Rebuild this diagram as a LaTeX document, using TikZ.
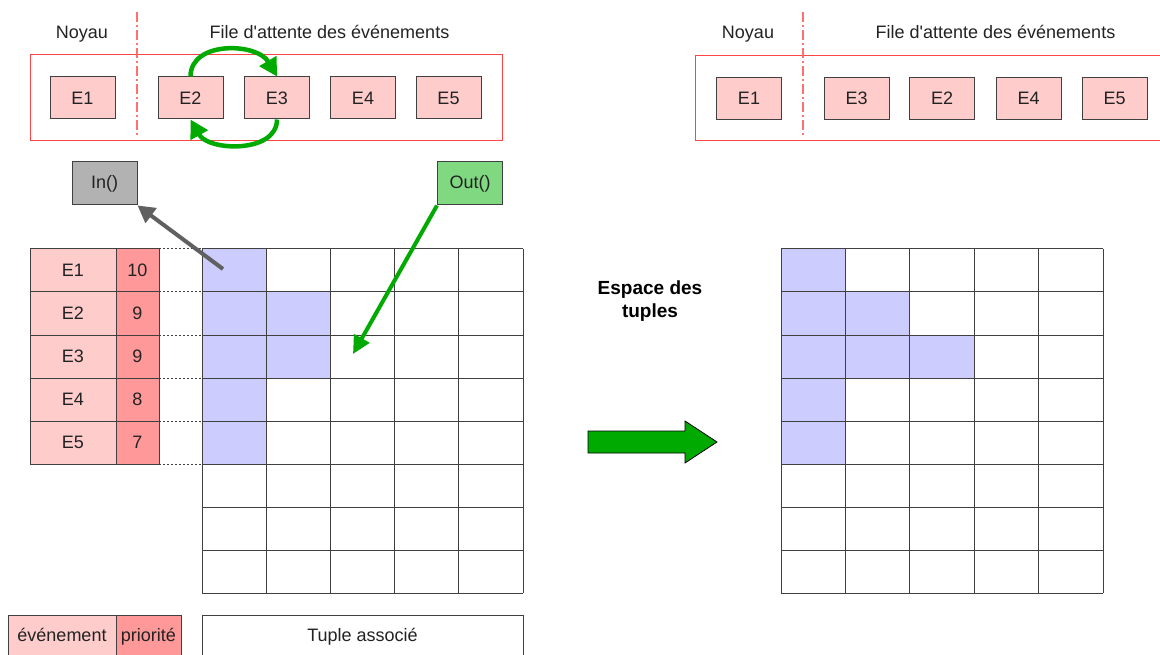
\documentclass[tikz,border=0pt]{standalone}
\usepackage{fontspec}
\setmainfont{Liberation Sans}[Ligatures=TeXOff]
\usetikzlibrary{arrows.meta}
\definecolor{epink}{HTML}{FFCCCC}
\definecolor{prio}{HTML}{FF9999}
\definecolor{tblue}{HTML}{CCCCFF}
\definecolor{ingray}{HTML}{B2B2B2}
\definecolor{outgreen}{HTML}{80D880}
\definecolor{agreen}{HTML}{00AA00}
\definecolor{qred}{HTML}{FF4444}
\definecolor{dred}{HTML}{FF7070}
\definecolor{linegray}{HTML}{404040}
\definecolor{txt}{HTML}{222222}
\definecolor{arrgray}{HTML}{606060}
\begin{document}
\begin{tikzpicture}[x=1pt,y=-1pt, font=\fontsize{18}{21}\selectfont, text=txt,
  ebox/.style={draw=linegray, line width=1pt, fill=epink, minimum width=65pt, minimum height=42pt, inner sep=0pt},
  fnbox/.style={draw=linegray, line width=1pt, minimum width=65pt, minimum height=43pt, inner sep=0pt},
  ecell/.style={draw=linegray, line width=1pt, fill=epink, minimum width=86pt, minimum height=43pt, inner sep=0pt},
  pcell/.style={draw=linegray, line width=1pt, fill=prio, minimum width=43pt, minimum height=43pt, inner sep=0pt},
  queue/.style={draw=qred, line width=1pt},
  sep/.style={draw=dred, line width=1.2pt, dash pattern=on 10pt off 3pt on 2pt off 3pt},
  title/.style={anchor=base, inner sep=0pt},
  gridline/.style={draw=linegray, line width=1pt},
  dotline/.style={draw=linegray, line width=1pt, dash pattern=on 2pt off 2pt},
  garrow/.style={draw=agreen, line width=4.5pt, -{Triangle[length=18pt,width=19pt]}},
  grayarrow/.style={draw=arrgray, line width=4pt, -{Triangle[length=17pt,width=18pt]}},
  oarrow/.style={draw=agreen, line width=4pt, -{Triangle[length=18pt,width=17pt]}},
  blockarrow/.style={fill=agreen, draw=black, line width=0.8pt}
]
\useasboundingbox (0,0) rectangle (1160,655);
\clip (0,0) rectangle (1160,655);

% ---------- left queue ----------
\node[title] (noyL) at (82,39) {Noyau};
\node[title] (fileL) at (329.5,39) {File d'attente des événements};
\draw[queue] (30,55) rectangle (502,141);
\draw[sep] (137,12) -- (137,135);
\node[ebox] (L1) at (82.5,98) {E1};
\node[ebox] (L2) at (190.5,98) {E2};
\node[ebox] (L3) at (277,98) {E3};
\node[ebox] (L4) at (363,98) {E4};
\node[ebox] (L5) at (448.5,98) {E5};
\draw[garrow] (L2.north) .. controls +(0,-36) and +(-20,-34) .. (L3.north);
\draw[garrow] (L3.south) .. controls +(0,34) and +(18,32) .. (L2.south);

% ---------- right queue ----------
\node[title] (noyR) at (748,39) {Noyau};
\node[title] (fileR) at (995.5,39) {File d'attente des événements};
\draw[queue] (695,56) rectangle (1175,141);
\draw[sep] (803,12) -- (803,135);
\node[ebox] (R1) at (749,98.5) {E1};
\node[ebox] (R3) at (856.5,98.5) {E3};
\node[ebox] (R2) at (942,98.5) {E2};
\node[ebox] (R4) at (1028.5,98.5) {E4};
\node[ebox] (R5) at (1114.5,98.5) {E5};

% ---------- In / Out ----------
\node[fnbox, fill=ingray] (In) at (104.5,183.5) {In()};
\node[fnbox, fill=outgreen] (Out) at (470,183.5) {Out()};

% ---------- left table ----------
\foreach \n/\p [count=\i from 0] in {E1/10,E2/9,E3/9,E4/8,E5/7} {
  \node[ecell] (T\n) at (73,270.5+43*\i) {\n};
  \node[pcell] (P\n) at (137.5,270.5+43*\i) {\p};
}
\foreach \i in {0,...,5} \draw[dotline] (159,249+43*\i) -- (202,249+43*\i);

% ---------- left grid ----------
\foreach \c/\r in {0/0,0/1,1/1,0/2,1/2,0/3,0/4}
  \fill[tblue] (202+64.2*\c,249+43*\r) rectangle (202+64.2*\c+64.2,249+43*\r+43);
\foreach \i in {0,...,5} \draw[gridline] (202+64.2*\i,249) -- (202+64.2*\i,593);
\foreach \j in {0,...,8} \draw[gridline] (202,249+43*\j) -- (523,249+43*\j);

% ---------- right grid ----------
\foreach \c/\r in {0/0,0/1,1/1,0/2,1/2,2/2,0/3,0/4}
  \fill[tblue] (781+64.4*\c,249+43*\r) rectangle (781+64.4*\c+64.4,249+43*\r+43);
\foreach \i in {0,...,5} \draw[gridline] (781+64.4*\i,249) -- (781+64.4*\i,593);
\foreach \j in {0,...,8} \draw[gridline] (781,249+43*\j) -- (1103,249+43*\j);

% ---------- arrows to/from grid ----------
\coordinate (gstart) at (223,269);
\coordinate (oend) at (353,354);
\draw[grayarrow] (gstart) -- (In.south east);
\draw[oarrow] (Out.south west) -- (oend);

% ---------- middle ----------
\node[align=center, font=\fontsize{19}{23}\selectfont\bfseries, text=black] (esp) at (650,301) {Espace des\\tuples};
\draw[blockarrow] (588,431) -- (685,431) -- (685,421) -- (717,442) -- (685,463) -- (685,453) -- (588,453) -- cycle;

% ---------- legend ----------
\node[draw=linegray, line width=1pt, fill=epink, minimum width=108pt, minimum height=43pt, inner sep=0pt, anchor=north west] (lev) at (8,615) {};
\node[anchor=base] at (62,641) {événement};
\node[draw=linegray, line width=1pt, fill=prio, minimum width=65pt, minimum height=43pt, inner sep=0pt, anchor=north west] (lpr) at (116,615) {};
\node[anchor=base] at (148.5,641) {priorité};
\node[draw=linegray, line width=1pt, minimum width=321pt, minimum height=43pt, inner sep=0pt, anchor=north west] (ltu) at (202,615) {};
\node[anchor=base] at (362.5,641) {Tuple associé};
\end{tikzpicture}
\end{document}
